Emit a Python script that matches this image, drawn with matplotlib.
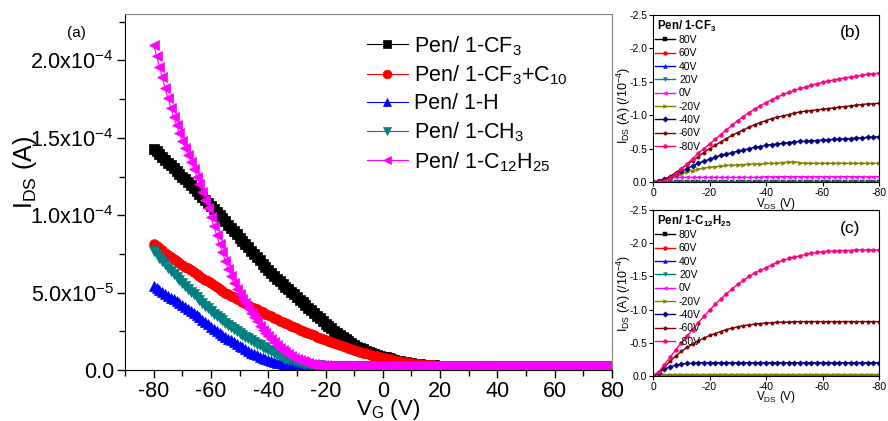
import numpy as np
import matplotlib
matplotlib.use("Agg")
import matplotlib.pyplot as plt
from matplotlib.ticker import MultipleLocator

plt.rcParams['font.family'] = ['Liberation Sans', 'DejaVu Sans']
plt.rcParams['mathtext.fontset'] = 'custom'
plt.rcParams['mathtext.rm'] = 'Liberation Sans'
plt.rcParams['mathtext.it'] = 'Liberation Sans:italic'
plt.rcParams['mathtext.bf'] = 'Liberation Sans:bold'
plt.rcParams['axes.unicode_minus'] = False

# ---------------- (a) transfer curves, I_DS in units of 1e-5 A ----------------
VG = list(range(-80, 81))  # gate voltage (V), 1 V step

ids_cf3 = [
    14.30, 14.12, 13.94, 13.76, 13.58, 13.40, 13.22, 13.04, 12.86, 12.68,
    12.50, 12.31, 12.12, 11.93, 11.74, 11.55, 11.36, 11.17, 10.98, 10.79,
    10.60, 10.40, 10.20, 10.00, 9.80, 9.60, 9.39, 9.18, 8.97, 8.76,
    8.55, 8.34, 8.13, 7.92, 7.71, 7.50, 7.29, 7.08, 6.87, 6.66,
    6.45, 6.27, 6.09, 5.91, 5.73, 5.55, 5.39, 5.22, 5.06, 4.89,
    4.73, 4.55, 4.38, 4.20, 4.03, 3.85, 3.68, 3.51, 3.34, 3.17,
    3.00, 2.85, 2.70, 2.55, 2.40, 2.25, 2.12, 1.99, 1.86, 1.73,
    1.60, 1.51, 1.42, 1.33, 1.24, 1.15, 1.09, 1.03, 0.97, 0.92,
    0.86, 0.81, 0.76, 0.70, 0.65, 0.60, 0.57, 0.53, 0.50, 0.46,
    0.43, 0.41, 0.39, 0.37, 0.35, 0.33, 0.32, 0.31, 0.30, 0.29,
    0.28, 0.28, 0.27, 0.27, 0.27, 0.27, 0.27, 0.27, 0.27, 0.27,
    0.27, 0.27, 0.27, 0.27, 0.27, 0.27, 0.27, 0.27, 0.27, 0.27,
    0.27, 0.27, 0.27, 0.27, 0.27, 0.27, 0.27, 0.27, 0.27, 0.27,
    0.27, 0.27, 0.27, 0.27, 0.27, 0.27, 0.27, 0.27, 0.27, 0.27,
    0.27, 0.27, 0.27, 0.27, 0.27, 0.27, 0.27, 0.27, 0.27, 0.27,
    0.27, 0.27, 0.27, 0.27, 0.27, 0.27, 0.27, 0.27, 0.27, 0.27,
    0.27,
]

ids_cf3_c10 = [
    8.15, 8.01, 7.87, 7.73, 7.59, 7.45, 7.32, 7.19, 7.06, 6.93,
    6.80, 6.68, 6.56, 6.44, 6.32, 6.20, 6.08, 5.96, 5.84, 5.72,
    5.60, 5.48, 5.36, 5.24, 5.12, 5.00, 4.90, 4.80, 4.70, 4.60,
    4.50, 4.40, 4.30, 4.20, 4.10, 4.00, 3.91, 3.82, 3.73, 3.64,
    3.55, 3.46, 3.37, 3.28, 3.19, 3.10, 3.02, 2.94, 2.85, 2.77,
    2.69, 2.61, 2.53, 2.46, 2.38, 2.30, 2.23, 2.16, 2.08, 2.01,
    1.94, 1.87, 1.80, 1.74, 1.67, 1.60, 1.54, 1.48, 1.41, 1.35,
    1.29, 1.24, 1.18, 1.13, 1.07, 1.02, 0.98, 0.93, 0.89, 0.84,
    0.80, 0.76, 0.72, 0.68, 0.64, 0.60, 0.57, 0.53, 0.50, 0.46,
    0.43, 0.41, 0.39, 0.37, 0.35, 0.33, 0.32, 0.31, 0.30, 0.29,
    0.28, 0.28, 0.27, 0.27, 0.27, 0.27, 0.27, 0.27, 0.27, 0.27,
    0.27, 0.27, 0.27, 0.27, 0.27, 0.27, 0.27, 0.27, 0.27, 0.27,
    0.27, 0.27, 0.27, 0.27, 0.27, 0.27, 0.27, 0.27, 0.27, 0.27,
    0.27, 0.27, 0.27, 0.27, 0.27, 0.27, 0.27, 0.27, 0.27, 0.27,
    0.27, 0.27, 0.27, 0.27, 0.27, 0.27, 0.27, 0.27, 0.27, 0.27,
    0.27, 0.27, 0.27, 0.27, 0.27, 0.27, 0.27, 0.27, 0.27, 0.27,
    0.27,
]

ids_h = [
    5.45, 5.32, 5.19, 5.06, 4.93, 4.80, 4.68, 4.56, 4.44, 4.32,
    4.20, 4.07, 3.94, 3.81, 3.68, 3.55, 3.40, 3.25, 3.10, 2.95,
    2.80, 2.67, 2.54, 2.41, 2.28, 2.15, 2.03, 1.92, 1.80, 1.69,
    1.57, 1.46, 1.35, 1.24, 1.13, 1.02, 0.94, 0.86, 0.78, 0.70,
    0.62, 0.57, 0.52, 0.47, 0.42, 0.37, 0.35, 0.33, 0.31, 0.29,
    0.27, 0.26, 0.26, 0.25, 0.25, 0.24, 0.24, 0.23, 0.23, 0.23,
    0.23, 0.23, 0.23, 0.23, 0.23, 0.23, 0.23, 0.23, 0.23, 0.23,
    0.23, 0.23, 0.23, 0.23, 0.23, 0.23, 0.23, 0.23, 0.23, 0.23,
    0.23, 0.23, 0.23, 0.23, 0.23, 0.23, 0.23, 0.23, 0.23, 0.23,
    0.23, 0.23, 0.23, 0.23, 0.23, 0.23, 0.23, 0.23, 0.23, 0.23,
    0.23, 0.23, 0.23, 0.23, 0.23, 0.23, 0.23, 0.23, 0.23, 0.23,
    0.23, 0.23, 0.23, 0.23, 0.23, 0.23, 0.23, 0.23, 0.23, 0.23,
    0.23, 0.23, 0.23, 0.23, 0.23, 0.23, 0.23, 0.23, 0.23, 0.23,
    0.23, 0.23, 0.23, 0.23, 0.23, 0.23, 0.23, 0.23, 0.23, 0.23,
    0.23, 0.23, 0.23, 0.23, 0.23, 0.23, 0.23, 0.23, 0.23, 0.23,
    0.23, 0.23, 0.23, 0.23, 0.23, 0.23, 0.23, 0.23, 0.23, 0.23,
    0.23,
]

ids_ch3 = [
    7.70, 7.48, 7.26, 7.04, 6.82, 6.60, 6.40, 6.20, 6.00, 5.80,
    5.60, 5.42, 5.24, 5.06, 4.88, 4.70, 4.52, 4.34, 4.16, 3.98,
    3.80, 3.65, 3.50, 3.35, 3.20, 3.05, 2.92, 2.79, 2.66, 2.53,
    2.40, 2.28, 2.16, 2.04, 1.92, 1.80, 1.70, 1.60, 1.50, 1.40,
    1.30, 1.20, 1.10, 1.00, 0.90, 0.80, 0.74, 0.68, 0.62, 0.56,
    0.50, 0.47, 0.44, 0.41, 0.38, 0.35, 0.34, 0.32, 0.31, 0.29,
    0.28, 0.27, 0.27, 0.26, 0.26, 0.26, 0.26, 0.26, 0.26, 0.26,
    0.26, 0.26, 0.26, 0.26, 0.26, 0.26, 0.26, 0.26, 0.26, 0.26,
    0.26, 0.26, 0.26, 0.26, 0.26, 0.26, 0.26, 0.26, 0.26, 0.26,
    0.26, 0.26, 0.26, 0.26, 0.26, 0.26, 0.26, 0.26, 0.26, 0.26,
    0.26, 0.26, 0.26, 0.26, 0.26, 0.26, 0.26, 0.26, 0.26, 0.26,
    0.26, 0.26, 0.26, 0.26, 0.26, 0.26, 0.26, 0.26, 0.26, 0.26,
    0.26, 0.26, 0.26, 0.26, 0.26, 0.26, 0.26, 0.26, 0.26, 0.26,
    0.26, 0.26, 0.26, 0.26, 0.26, 0.26, 0.26, 0.26, 0.26, 0.26,
    0.26, 0.26, 0.26, 0.26, 0.26, 0.26, 0.26, 0.26, 0.26, 0.26,
    0.26, 0.26, 0.26, 0.26, 0.26, 0.26, 0.26, 0.26, 0.26, 0.26,
    0.26,
]

ids_c12h25 = [
    21.00, 20.30, 19.60, 18.90, 18.20, 17.55, 16.90, 16.35, 15.80, 15.30,
    14.80, 14.35, 13.90, 13.45, 13.00, 12.50, 12.00, 11.50, 11.00, 10.45,
    9.90, 9.30, 8.70, 8.15, 7.60, 7.05, 6.50, 6.05, 5.60, 5.25,
    4.90, 4.60, 4.30, 4.00, 3.70, 3.42, 3.15, 2.87, 2.60, 2.40,
    2.20, 2.00, 1.80, 1.62, 1.45, 1.30, 1.15, 1.02, 0.90, 0.80,
    0.70, 0.62, 0.55, 0.50, 0.45, 0.41, 0.38, 0.35, 0.33, 0.31,
    0.30, 0.29, 0.29, 0.29, 0.29, 0.29, 0.29, 0.29, 0.29, 0.29,
    0.29, 0.29, 0.29, 0.29, 0.29, 0.29, 0.29, 0.29, 0.29, 0.29,
    0.29, 0.29, 0.29, 0.29, 0.29, 0.29, 0.29, 0.29, 0.29, 0.29,
    0.29, 0.29, 0.29, 0.29, 0.29, 0.29, 0.29, 0.29, 0.29, 0.29,
    0.29, 0.29, 0.29, 0.29, 0.29, 0.29, 0.29, 0.29, 0.29, 0.29,
    0.29, 0.29, 0.29, 0.29, 0.29, 0.29, 0.29, 0.29, 0.29, 0.29,
    0.29, 0.29, 0.29, 0.29, 0.29, 0.29, 0.29, 0.29, 0.29, 0.29,
    0.29, 0.29, 0.29, 0.29, 0.29, 0.29, 0.29, 0.29, 0.29, 0.29,
    0.29, 0.29, 0.29, 0.29, 0.29, 0.29, 0.29, 0.29, 0.29, 0.29,
    0.29, 0.29, 0.29, 0.29, 0.29, 0.29, 0.29, 0.29, 0.29, 0.29,
    0.29,
]

labels_a = [r"Pen/ 1-CF$_\mathrm{3}$", r"Pen/ 1-CF$_\mathrm{3}$+C$_\mathrm{10}$",
            "Pen/ 1-H", r"Pen/ 1-CH$_\mathrm{3}$", r"Pen/ 1-C$_\mathrm{12}$H$_\mathrm{25}$"]
colors_a = ["#000000", "#FF0000", "#0000FF", "#008080", "#FF00FF"]
markers_a = ["s", "o", "^", "v", "<"]
series_a = [ids_cf3, ids_cf3_c10, ids_h, ids_ch3, ids_c12h25]

yticks_a = [0, 5e-5, 1e-4, 1.5e-4, 2e-4]
yticklabels_a = ["0.0", r"5.0x10$^{-5}$", r"1.0x10$^{-4}$", r"1.5x10$^{-4}$", r"2.0x10$^{-4}$"]
xticks_a = [-80, -60, -40, -20, 0, 20, 40, 60, 80]

# ---------------- (b), (c) output curves, I_DS in units of 1e-4 A ----------------
VDS = list(range(0, -81, -2))
gate_labels = ["80V", "60V", "40V", "20V", "0V", "-20V", "-40V", "-60V", "-80V"]
colors_bc = ["#000000", "#FF0000", "#0000FF", "#008080", "#FF00FF",
             "#808000", "#000080", "#800000", "#FF0080"]
markers_bc = ["s", "o", "^", "v", "<", ">", "D", "p", "o"]

zero_curve = [0.00] * 41

b_0V = [0.00, -0.02, -0.04, -0.06, -0.07, -0.07, -0.07, -0.07, -0.07, -0.07,
        -0.07, -0.07, -0.07, -0.07, -0.07, -0.07, -0.07, -0.07, -0.07, -0.07,
        -0.08, -0.08, -0.08, -0.08, -0.08, -0.08, -0.08, -0.08, -0.08, -0.08,
        -0.08, -0.08, -0.08, -0.08, -0.08, -0.08, -0.08, -0.08, -0.08, -0.08,
        -0.08]
b_m20V = [0.00, -0.01, -0.03, -0.06, -0.09, -0.12, -0.15, -0.17, -0.19, -0.21,
          -0.22, -0.23, -0.24, -0.25, -0.25, -0.26, -0.26, -0.27, -0.27, -0.27,
          -0.28, -0.28, -0.28, -0.29, -0.30, -0.30, -0.29, -0.28, -0.28, -0.28,
          -0.28, -0.28, -0.28, -0.28, -0.28, -0.28, -0.28, -0.28, -0.28, -0.28,
          -0.28]
b_m40V = [0.00, -0.01, -0.04, -0.08, -0.12, -0.16, -0.20, -0.24, -0.28, -0.31,
          -0.34, -0.37, -0.40, -0.42, -0.44, -0.46, -0.48, -0.50, -0.52, -0.53,
          -0.55, -0.56, -0.57, -0.58, -0.59, -0.60, -0.61, -0.61, -0.62, -0.62,
          -0.63, -0.63, -0.64, -0.64, -0.65, -0.65, -0.66, -0.66, -0.67, -0.67,
          -0.68]
b_m60V = [0.00, 0.00, -0.03, -0.08, -0.14, -0.20, -0.26, -0.32, -0.38, -0.44,
          -0.50, -0.55, -0.60, -0.65, -0.70, -0.74, -0.78, -0.82, -0.86, -0.89,
          -0.92, -0.95, -0.97, -0.99, -1.01, -1.03, -1.05, -1.06, -1.07, -1.08,
          -1.09, -1.10, -1.11, -1.12, -1.13, -1.14, -1.15, -1.16, -1.17, -1.17,
          -1.18]
b_m80V = [0.00, 0.00, -0.01, -0.06, -0.12, -0.19, -0.27, -0.35, -0.43, -0.50,
          -0.57, -0.64, -0.71, -0.78, -0.85, -0.92, -0.98, -1.04, -1.09, -1.14,
          -1.19, -1.23, -1.27, -1.31, -1.34, -1.37, -1.40, -1.42, -1.45, -1.47,
          -1.49, -1.51, -1.53, -1.54, -1.56, -1.57, -1.58, -1.60, -1.61, -1.62,
          -1.63]
series_b = [zero_curve, zero_curve, zero_curve, zero_curve, b_0V, b_m20V, b_m40V, b_m60V, b_m80V]

c_m20V = [0.00, -0.01, -0.02, -0.02, -0.02, -0.02, -0.02, -0.02, -0.02, -0.02,
          -0.02, -0.02, -0.02, -0.02, -0.02, -0.02, -0.02, -0.02, -0.02, -0.02,
          -0.02, -0.02, -0.02, -0.02, -0.02, -0.02, -0.02, -0.02, -0.02, -0.02,
          -0.02, -0.02, -0.02, -0.02, -0.02, -0.02, -0.02, -0.02, -0.02, -0.02,
          -0.02]
c_m40V = [0.00, -0.05, -0.10, -0.14, -0.16, -0.18, -0.19, -0.19, -0.20, -0.20,
          -0.20, -0.20, -0.20, -0.20, -0.20, -0.20, -0.20, -0.20, -0.20, -0.20,
          -0.20, -0.20, -0.20, -0.20, -0.20, -0.20, -0.20, -0.20, -0.20, -0.20,
          -0.20, -0.20, -0.20, -0.20, -0.20, -0.20, -0.20, -0.20, -0.20, -0.20,
          -0.20]
c_m60V = [0.00, -0.06, -0.14, -0.22, -0.30, -0.37, -0.43, -0.48, -0.53, -0.57,
          -0.61, -0.64, -0.67, -0.70, -0.72, -0.74, -0.76, -0.77, -0.78, -0.79,
          -0.80, -0.80, -0.81, -0.81, -0.81, -0.82, -0.82, -0.82, -0.82, -0.82,
          -0.82, -0.82, -0.82, -0.82, -0.82, -0.82, -0.82, -0.82, -0.82, -0.82,
          -0.82]
c_m80V = [0.00, -0.06, -0.17, -0.28, -0.39, -0.50, -0.60, -0.70, -0.80, -0.90,
          -0.99, -1.08, -1.16, -1.24, -1.31, -1.38, -1.44, -1.50, -1.55, -1.59,
          -1.63, -1.67, -1.71, -1.74, -1.77, -1.79, -1.81, -1.83, -1.85, -1.86,
          -1.87, -1.88, -1.88, -1.89, -1.89, -1.89, -1.90, -1.90, -1.90, -1.90,
          -1.90]
series_c = [zero_curve, zero_curve, zero_curve, zero_curve, zero_curve, c_m20V, c_m40V, c_m60V, c_m80V]

xticks_bc = [0, -20, -40, -60, -80]
xticklabels_bc = ["0", "-20", "-40", "-60", "-80"]
yticks_bc = [0.0, -0.5, -1.0, -1.5, -2.0, -2.5]
yticklabels_bc = ["0.0", "-0.5", "-1.0", "-1.5", "-2.0", "-2.5"]

# ---------------- figure ----------------
W, H = 888, 421
fig = plt.figure(figsize=(W / 100, H / 100), dpi=100)


def box(l, t, r, b):
    return [l / W, 1 - b / H, (r - l) / W, (b - t) / H]


def fpos(x, y):
    return (x / W, 1 - y / H)


ax = fig.add_axes(box(125, 14, 612, 370))
for vals, lab, col, mk in zip(series_a, labels_a, colors_a, markers_a):
    ax.plot(VG, np.asarray(vals) * 1e-5, color=col, marker=mk, ms=7,
            mec=col, mfc=col, mew=0.5, lw=0.8, label=lab)
ax.set_xlim(-90, 80)
ax.set_ylim(0, 2.3e-4)
ax.set_xticks(xticks_a)
ax.set_xticklabels([str(v) for v in xticks_a])
ax.xaxis.set_minor_locator(MultipleLocator(10))
ax.set_yticks(yticks_a)
ax.set_yticklabels(yticklabels_a)
ax.yaxis.set_minor_locator(MultipleLocator(2.5e-5))
ax.tick_params(which='both', direction='out', top=False, right=False, width=1)
ax.tick_params(which='major', length=6, labelsize=15.5, pad=2)
ax.tick_params(which='minor', length=4)
for s in ['top', 'right']:
    ax.spines[s].set_color('#808080')
ax.legend(loc='upper left', bbox_to_anchor=fpos(367, 34), bbox_transform=fig.transFigure,
          frameon=False, fontsize=15.5, handlelength=1.9, handletextpad=0.3,
          labelspacing=0.28, borderpad=0, borderaxespad=0, markerscale=0.9)

fig.text(*fpos(25, 172), r"I$_\mathrm{DS}$ (A)", rotation=90, ha='center', va='center', fontsize=18)
fig.text(*fpos(388, 410), r"V$_\mathrm{G}$ (V)", ha='center', va='center', fontsize=16)
fig.text(*fpos(76, 33), "(a)", ha='center', va='center', fontsize=11)


def output_panel(axp, series, title, tag, top, xl_y, yl_y):
    for vals, lab, col, mk in zip(series, gate_labels, colors_bc, markers_bc):
        axp.plot(VDS, vals, color=col, marker=mk, ms=2.8, mec=col, mfc=col,
                 mew=0.3, lw=1.0, label=lab)
    axp.set_xlim(0, -80)
    axp.set_ylim(0, -2.5)
    axp.set_xticks(xticks_bc)
    axp.set_xticklabels(xticklabels_bc)
    axp.set_yticks(yticks_bc)
    axp.set_yticklabels(yticklabels_bc)
    axp.tick_params(direction='out', length=3, width=0.8, labelsize=7.5, pad=1)
    for s in axp.spines.values():
        s.set_linewidth(0.8)
    axp.legend(loc='upper left', bbox_to_anchor=fpos(655, top + 20), bbox_transform=fig.transFigure,
               frameon=False, fontsize=7.5, handlelength=1.9, handletextpad=0.4,
               labelspacing=0.32, borderpad=0, borderaxespad=0)
    fig.text(*fpos(657, top + 11), title, ha='left', va='center', fontsize=8.3, fontweight='bold')
    fig.text(*fpos(850, top + 18), tag, ha='center', va='center', fontsize=12.5)
    fig.text(*fpos(776, xl_y), r"V$_\mathrm{DS}$ (V)", ha='center', va='center', fontsize=8.5)
    fig.text(*fpos(624, yl_y), r"I$_\mathrm{DS}$ (A) (/10$^{-4}$)", rotation=90,
             ha='center', va='center', fontsize=9)


axb = fig.add_axes(box(653, 15, 879, 182))
output_panel(axb, series_b, r"Pen/ 1-CF$_\mathbf{3}$", "(b)", 15, 204.5, 105)
axc = fig.add_axes(box(653, 210, 879, 376))
output_panel(axc, series_c, r"Pen/ 1-C$_\mathbf{12}$H$_\mathbf{25}$", "(c)", 210, 397, 293)

fig.savefig("out.png", dpi=100)
